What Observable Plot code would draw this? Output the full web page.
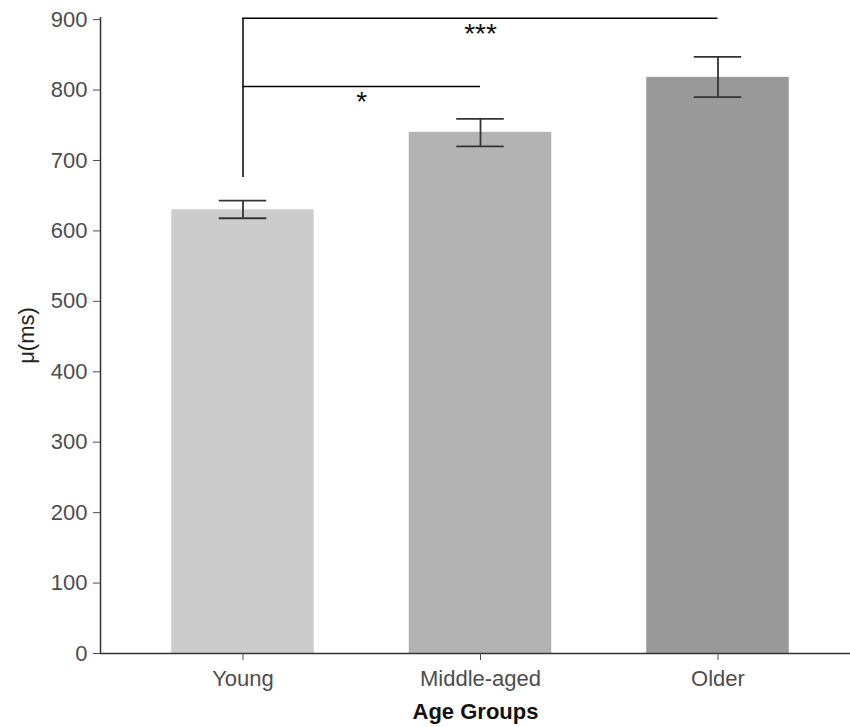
<!DOCTYPE html>
<html><head><meta charset="utf-8">
<script src="https://cdn.jsdelivr.net/npm/d3@7"></script>
<script src="https://cdn.jsdelivr.net/npm/@observablehq/plot@0.6"></script>
<style>
body{margin:0;background:#fff;}
g[aria-label="x-axis label"] text{font-weight:bold;fill:#111;}
g[aria-label="y-axis label"] text{fill:#222;}
</style></head><body><div id="chart"></div>
<script>
// ---- data ----
const groups = ["Young", "Middle-aged", "Older"];
const means = [630, 740, 818];
const errLow = [618, 720, 790];
const errHigh = [643, 759, 847];
const barColors = ["#cccccc", "#b3b3b3", "#999999"];
const yTicks = [0, 100, 200, 300, 400, 500, 600, 700, 800, 900];
// significance comparisons (group indices)
const compFrom = [0, 0];
const compTo = [2, 1];
const compY = [902, 805];
const compLabels = ["***", "*"];
const compLabelY = [880, 783];
const bracketBase = 676;

// ---- build ----
const barW = 0.6, capW = 0.2;
const xDomain = [0.4, 3.6];
const yDomain = [0, 903];
const bars = groups.map((g, i) => ({group: g, pos: i + 1, mean: means[i], lo: errLow[i], hi: errHigh[i], color: barColors[i]}));
const comps = compFrom.map((f, i) => ({x1: f + 1, x2: compTo[i] + 1, y: compY[i], label: compLabels[i], ly: compLabelY[i]}));
const stem = [{x: compFrom[0] + 1, y1: bracketBase, y2: d3.max(compY)}];

const axisColor = "#333";
const chart = Plot.plot({
  width: 850,
  height: 727,
  marginLeft: 100,
  marginRight: 0,
  marginTop: 17,
  marginBottom: 74,
  style: {fontFamily: "'Liberation Sans', Arial, sans-serif", fontSize: "22px", color: "#4d4d4d", background: "#fff"},
  x: {domain: xDomain, range: [100, 860]},
  y: {domain: yDomain},
  marks: [
    Plot.rectY(bars, {x1: d => d.pos - barW / 2, x2: d => d.pos + barW / 2, y1: 0, y2: "mean", fill: "color"}),
    Plot.ruleX(bars, {x: "pos", y1: "lo", y2: "hi", stroke: axisColor, strokeWidth: 1.8}),
    Plot.ruleY(bars, {y: "lo", x1: d => d.pos - capW / 2, x2: d => d.pos + capW / 2, stroke: axisColor, strokeWidth: 1.8}),
    Plot.ruleY(bars, {y: "hi", x1: d => d.pos - capW / 2, x2: d => d.pos + capW / 2, stroke: axisColor, strokeWidth: 1.8}),
    Plot.ruleX(stem, {x: "x", y1: "y1", y2: "y2", stroke: "#000", strokeWidth: 1.5}),
    Plot.ruleY(comps, {y: "y", x1: "x1", x2: "x2", stroke: "#000", strokeWidth: 1.5}),
    Plot.text(comps, {x: d => (d.x1 + d.x2) / 2, y: "ly", text: "label", fontSize: 28, fill: "#111", lineAnchor: "middle"}),
    Plot.ruleY([0], {stroke: axisColor, strokeWidth: 1.5}),
    Plot.ruleX([xDomain[0]], {y1: yDomain[0], y2: yDomain[1], stroke: axisColor, strokeWidth: 1.5}),
    Plot.axisY({ticks: yTicks, tickSize: 7, tickPadding: 6, fontSize: 22, label: "μ(ms)", labelAnchor: "center", labelArrow: "none", labelOffset: 82}),
    Plot.axisX({ticks: [1, 2, 3], tickFormat: d => groups[d - 1], tickSize: 7, tickPadding: 10, fontSize: 22, label: "Age Groups", labelAnchor: "center", labelArrow: "none", labelOffset: 65})
  ]
});
document.getElementById("chart").appendChild(chart);
</script></body></html>
